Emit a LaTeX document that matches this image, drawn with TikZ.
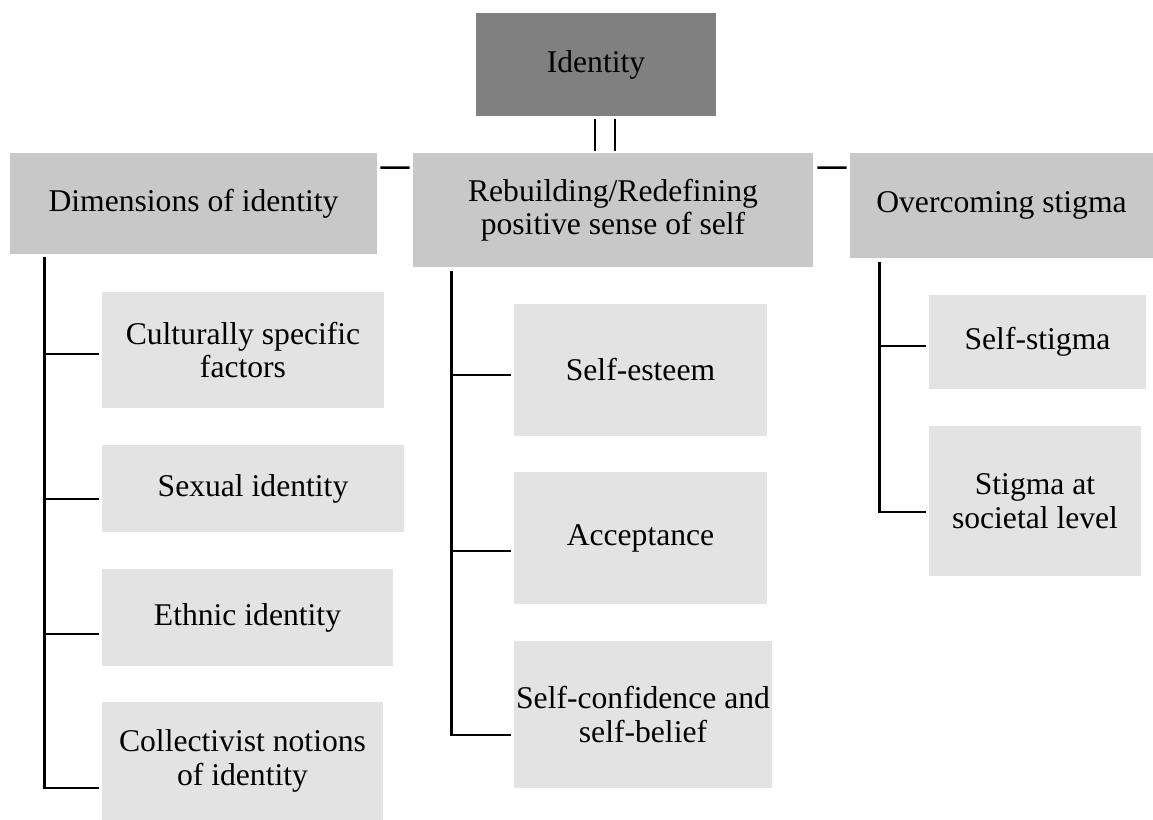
\documentclass[tikz,border=0pt]{standalone}
\usepackage{fontspec}
\setmainfont{Liberation Serif}
\usepackage{tikz}
\definecolor{idfill}{HTML}{808080}
\definecolor{catfill}{HTML}{C8C8C8}
\definecolor{leaffill}{HTML}{E3E3E3}
\tikzset{
  topbox/.style={rectangle,fill=idfill,align=center,inner sep=0pt,font=\fontsize{18}{19}\selectfont},
  catbox/.style={rectangle,fill=catfill,align=center,inner sep=0pt,font=\fontsize{18}{19}\selectfont},
  leafbox/.style={rectangle,fill=leaffill,align=center,inner sep=0pt,font=\fontsize{18}{19}\selectfont},
  link/.style={draw=black,line width=1.4pt}}
\begin{document}
\begin{tikzpicture}[x=0.02cm,y=-0.02cm]
\useasboundingbox (0,0) rectangle (1153,820);
% top and categories
\node[topbox,minimum width=4.8cm,minimum height=2.06cm] (id) at (596,64.5) {Identity};
\node[catbox,minimum width=7.34cm,minimum height=2.02cm] (dim) at (193.5,203.5) {Dimensions of identity};
\node[catbox,minimum width=8cm,minimum height=2.28cm] (rebuild) at (613,210) {Rebuilding/Redefining\\positive sense of self};
\node[catbox,minimum width=6.06cm,minimum height=2.1cm] (over) at (1001.5,205.5) {Overcoming stigma};
\draw[link] ([shift={(-1,3)}]id.south) -- ([shift={(-18,-2)}]rebuild.north);
\draw[link] ([shift={(19,3)}]id.south) -- ([shift={(2,-2)}]rebuild.north);
\draw[link] ([shift={(3,15)}]dim.north east) -- ([shift={(-3,15)}]rebuild.north west);
\draw[link] ([shift={(4,15)}]rebuild.north east) -- ([shift={(-3,15)}]over.north west);
% dimensions of identity
\node[leafbox,minimum width=5.64cm,minimum height=2.32cm] (cult) at (243,350) {Culturally specific\\factors};
\node[leafbox,minimum width=6.04cm,minimum height=1.74cm] (sex) at (253,488.5) {Sexual identity};
\node[leafbox,minimum width=5.82cm,minimum height=1.94cm] (eth) at (247.5,617.5) {Ethnic identity};
\node[leafbox,minimum width=5.62cm,minimum height=2.36cm] (coll) at (242.5,761) {Collectivist notions\\of identity};
\coordinate (dimtop) at ([shift={(35,3)}]dim.south west);
\draw[link] (dimtop) |- ([shift={(-3,4)}]cult.west);
\draw[link] (dimtop) |- ([shift={(-3,10.5)}]sex.west);
\draw[link] (dimtop) |- ([shift={(-3,16.5)}]eth.west);
\draw[link] (dimtop) |- ([shift={(-3,27)}]coll.west);
% positive sense of self
\node[leafbox,minimum width=5.06cm,minimum height=2.64cm] (esteem) at (640.5,370) {Self-esteem};
\node[leafbox,minimum width=5.06cm,minimum height=2.64cm] (accept) at (640.5,538) {Acceptance};
\node[leafbox,minimum width=5.16cm,minimum height=2.94cm] (conf) at (643,714.5) {Self-confidence and\\self-belief};
\coordinate (rebtop) at ([shift={(39,4)}]rebuild.south west);
\draw[link] (rebtop) |- ([shift={(-3,5)}]esteem.west);
\draw[link] (rebtop) |- ([shift={(-3,13)}]accept.west);
\draw[link] (rebtop) |- ([shift={(-3,20.5)}]conf.west);
% stigma
\node[leafbox,minimum width=4.34cm,minimum height=1.88cm] (sstig) at (1037.5,342) {Self-stigma};
\node[leafbox,minimum width=4.24cm,minimum height=3cm] (soc) at (1035,501) {Stigma at\\societal level};
\coordinate (overtop) at ([shift={(30,4)}]over.south west);
\draw[link] (overtop) |- ([shift={(-3,4)}]sstig.west);
\draw[link] (overtop) |- ([shift={(-3,11)}]soc.west);
\end{tikzpicture}
\end{document}
